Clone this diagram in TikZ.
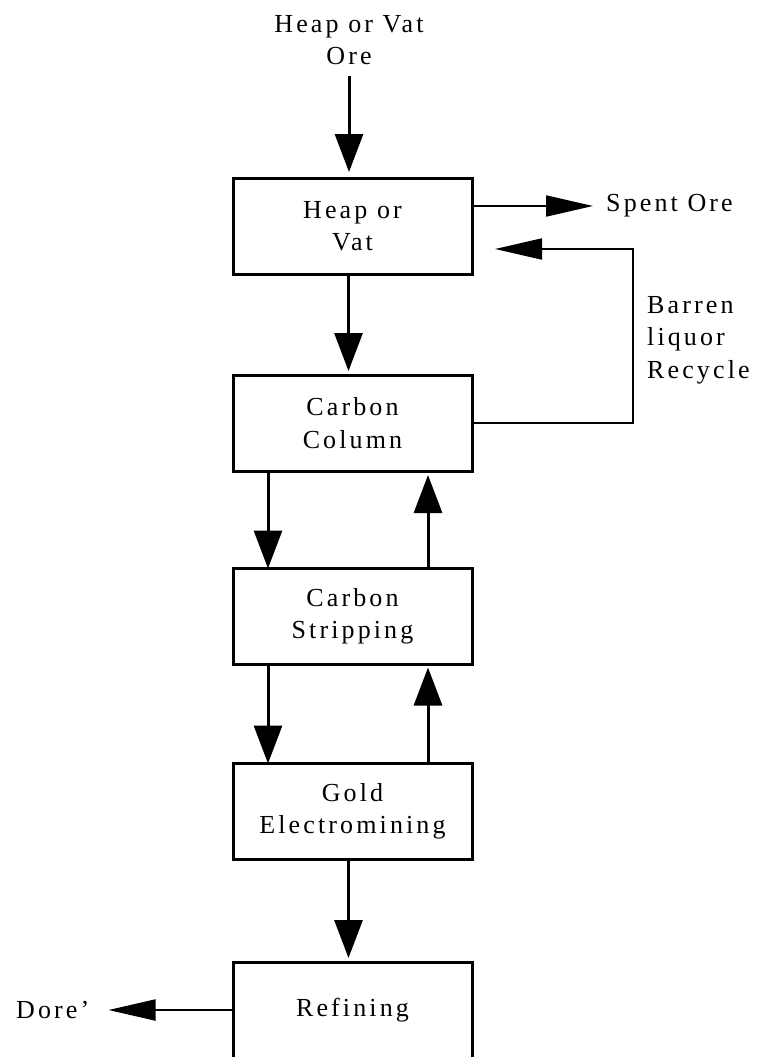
\documentclass[tikz,border=0pt]{standalone}
\usepackage{fontspec}
\setmainfont{Liberation Serif}[LetterSpace=12]
\usetikzlibrary{arrows.meta}

\newcommand{\flowfont}{\fontsize{26}{32.5}\selectfont}
\tikzset{
  box/.style={draw, line width=3pt, minimum width=239pt, minimum height=96pt,
    inner sep=0pt, outer sep=0pt, align=center, font=\flowfont},
  lbl/.style={inner sep=0pt, font=\flowfont},
  varrow/.style={line width=3pt, -{Triangle[length=38pt,width=28pt]}},
  harrow/.style={line width=2pt, -{Triangle[length=47pt,width=21pt]}},
}

\begin{document}
\begin{tikzpicture}[x=1pt, y=-1pt]
  \useasboundingbox (0,0) rectangle (758,1057);

  % Process boxes
  \node[box] (heap) at (352.5,226) {Heap or\\Vat};
  \node[box] (column) at (352.5,423) {Carbon\\Column};
  \node[box] (strip) at (352.5,616.5) {Carbon\\Stripping};
  \node[box] (gold) at (352.5,811.5) {Gold\\Electromining};
  \node[box] (refine) at (352.5,1010) {Refining};

  % Feed and products
  \node[lbl, align=center] (ore) at (349,40) {Heap or Vat\\Ore};
  \node[lbl, anchor=west] (spent) at (606,206) {Spent Ore};
  \node[lbl, anchor=west, align=left] (barren) at (647,340) {Barren\\liquor\\Recycle};
  \node[lbl, anchor=west] (dore) at (16,1010) {Dore’};
  \coordinate (bend) at (633,249);

  % Main flow
  \draw[varrow, shorten <=11pt, shorten >=6pt] (ore.south) -- (ore.south |- heap.north);
  \draw[varrow, shorten >=4pt] ([xshift=-4pt]heap.south) -- ([xshift=-4pt]column.north);
  \draw[varrow] ([xshift=35pt]column.south west) -- ([xshift=35pt]strip.north west);
  \draw[varrow, shorten >=4pt] ([xshift=-44pt]strip.north east) -- ([xshift=-44pt]column.south east);
  \draw[varrow] ([xshift=35pt]strip.south west) -- ([xshift=35pt]gold.north west);
  \draw[varrow, shorten >=3pt] ([xshift=-44pt]gold.north east) -- ([xshift=-44pt]strip.south east);
  \draw[varrow, shorten >=4pt] ([xshift=-4pt]gold.south) -- ([xshift=-4pt]refine.north);

  % Side streams
  \draw[harrow, shorten >=13pt] (heap.east |- spent.west) -- (spent.west);
  \draw[harrow, shorten >=23pt] (column.east) -| (bend) -- (heap.east |- bend);
  \draw[harrow, shorten >=19pt] (refine.west) -- (refine.west -| dore.east);
\end{tikzpicture}
\end{document}
